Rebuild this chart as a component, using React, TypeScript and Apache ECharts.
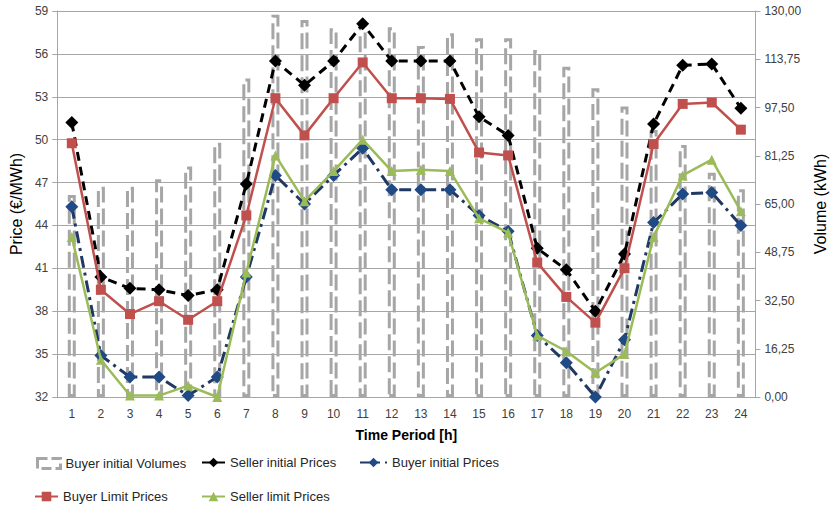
import React, { useEffect, useRef } from "react";
import * as echarts from "echarts";

const categories = ["1","2","3","4","5","6","7","8","9","10","11","12","13","14","15","16","17","18","19","20","21","22","23","24"];
const buyerInitialVolumes = [68.0, 70.8, 70.8, 73.3, 77.6, 85.6, 107.3, 128.7, 127.0, 124.2, 126.5, 124.5, 118.2, 122.5, 120.8, 120.8, 116.9, 111.2, 104.0, 97.8, 89.9, 84.9, 75.5, 70.0];
const sellerInitialPrices = [51.2, 40.4, 39.6, 39.5, 39.1, 39.5, 46.9, 55.5, 53.8, 55.5, 58.1, 55.5, 55.5, 55.5, 51.6, 50.3, 42.4, 40.9, 38.0, 42.0, 51.1, 55.2, 55.3, 52.2];
const buyerInitialPrices = [45.3, 34.9, 33.4, 33.4, 32.1, 33.4, 40.4, 47.5, 45.5, 47.5, 49.4, 46.5, 46.5, 46.5, 44.7, 43.6, 36.3, 34.4, 32.0, 36.0, 44.2, 46.2, 46.3, 44.0];
const buyerLimitPrices = [49.75, 39.5, 37.8, 38.7, 37.4, 38.7, 44.7, 52.9, 50.3, 52.9, 55.4, 52.9, 52.9, 52.85, 49.1, 48.9, 41.4, 39.0, 37.2, 41.0, 49.7, 52.5, 52.6, 50.7];
const sellerLimitPrices = [43.2, 34.6, 32.1, 32.1, 32.8, 32.0, 40.7, 48.9, 45.7, 47.8, 50.0, 47.8, 47.9, 47.8, 44.5, 43.5, 36.3, 35.2, 33.7, 35.0, 43.2, 47.5, 48.6, 45.0];

const priceMin = 32, priceMax = 59, priceStep = 3;
const volMin = 0, volMax = 130, volStep = 16.25;

const FONT = "'Liberation Sans', Arial, sans-serif";
const GRAY = "#A6A6A6";
const TXT = "#404040";

export default function App() {
  const ref = useRef<HTMLDivElement>(null);
  useEffect(() => {
    if (!ref.current) return;
    const chart = echarts.init(ref.current, undefined, { renderer: "svg" });
    const legendText = { fontFamily: FONT, fontSize: 13, color: "#262626" };
    const mkLegend = (name: string, left: number, top: number, w: number) => ({
      left, top, padding: 0, itemWidth: w, itemHeight: 12, data: [name], textStyle: legendText,
      selectedMode: false,
    });
    chart.setOption({
      animation: false,
      textStyle: { fontFamily: FONT },
      grid: { left: 57, right: 66, top: 11, bottom: 112, containLabel: false },
      legend: [
        {
          left: 36, top: 457, padding: 0, itemWidth: 23, itemHeight: 10, selectedMode: false,
          textStyle: legendText,
          data: [{ name: "Buyer initial Volumes", icon: "rect",
            itemStyle: { color: "rgba(0,0,0,0)", borderColor: GRAY, borderWidth: 3, borderType: [10, 4] } }],
        },
        mkLegend("Seller initial Prices", 201, 456, 23),
        mkLegend("Buyer initial Prices", 359, 456, 27),
        mkLegend("Buyer Limit Prices", 34, 490, 23),
        mkLegend("Seller limit Prices", 201, 490, 23),
      ],
      xAxis: {
        type: "category",
        data: categories,
        boundaryGap: true,
        name: "Time Period [h]",
        nameLocation: "middle",
        nameGap: 31,
        nameTextStyle: { fontFamily: FONT, fontSize: 14, fontWeight: "bold", color: "#000" },
        axisLine: { lineStyle: { color: GRAY, width: 1 } },
        axisTick: { show: false },
        axisLabel: { color: TXT, fontSize: 12, margin: 11 },
      },
      yAxis: [
        {
          type: "value", min: priceMin, max: priceMax, interval: priceStep,
          name: "Price (€/MWh)", nameLocation: "middle", nameGap: 31,
          nameTextStyle: { fontFamily: FONT, fontSize: 16, color: "#000" },
          axisLine: { show: true, lineStyle: { color: GRAY } },
          axisTick: { show: true, length: 5, lineStyle: { color: GRAY } },
          axisLabel: { color: TXT, fontSize: 12, margin: 9 },
          splitLine: { show: true, lineStyle: { color: GRAY, width: 1 } },
        },
        {
          type: "value", min: volMin, max: volMax, interval: volStep, position: "right",
          name: "Volume (kWh)", nameLocation: "middle", nameGap: 50, nameRotate: 90,
          nameTextStyle: { fontFamily: FONT, fontSize: 16, color: "#000" },
          axisLine: { show: true, lineStyle: { color: GRAY } },
          axisTick: { show: true, length: 5, lineStyle: { color: GRAY } },
          axisLabel: { color: TXT, fontSize: 12, margin: 9,
            formatter: (v: number) => v.toFixed(2).replace(".", ",") },
          splitLine: { show: false },
        },
      ],
      series: [
        {
          name: "Buyer initial Volumes", type: "bar", yAxisIndex: 1, barWidth: 8,
          data: buyerInitialVolumes,
          itemStyle: { color: "rgba(0,0,0,0)", borderColor: GRAY, borderWidth: 3, borderType: [16, 6] },
          z: 1,
        },
        {
          name: "Seller initial Prices", type: "line", yAxisIndex: 0, data: sellerInitialPrices,
          symbol: "diamond", symbolSize: 13,
          lineStyle: { color: "#000", width: 3, type: [9, 6] },
          itemStyle: { color: "#000" }, z: 3,
        },
        {
          name: "Buyer initial Prices", type: "line", yAxisIndex: 0, data: buyerInitialPrices,
          symbol: "diamond", symbolSize: 13,
          lineStyle: { color: "#1F3864", width: 3, type: [12, 5, 3, 5] },
          itemStyle: { color: "#1F4A86" }, z: 4,
        },
        {
          name: "Buyer Limit Prices", type: "line", yAxisIndex: 0, data: buyerLimitPrices,
          symbol: "rect", symbolSize: 10,
          lineStyle: { color: "#C0504D", width: 2.5 },
          itemStyle: { color: "#C0504D" }, z: 5,
        },
        {
          name: "Seller limit Prices", type: "line", yAxisIndex: 0, data: sellerLimitPrices,
          symbol: "triangle", symbolSize: 10,
          lineStyle: { color: "#9BBB59", width: 2.5 },
          itemStyle: { color: "#9BBB59" }, z: 6,
        },
      ],
    });
    return () => chart.dispose();
  }, []);
  return <div ref={ref} style={{ width: 836, height: 509, position: "absolute", left: 0, top: 0 }} />;
}
